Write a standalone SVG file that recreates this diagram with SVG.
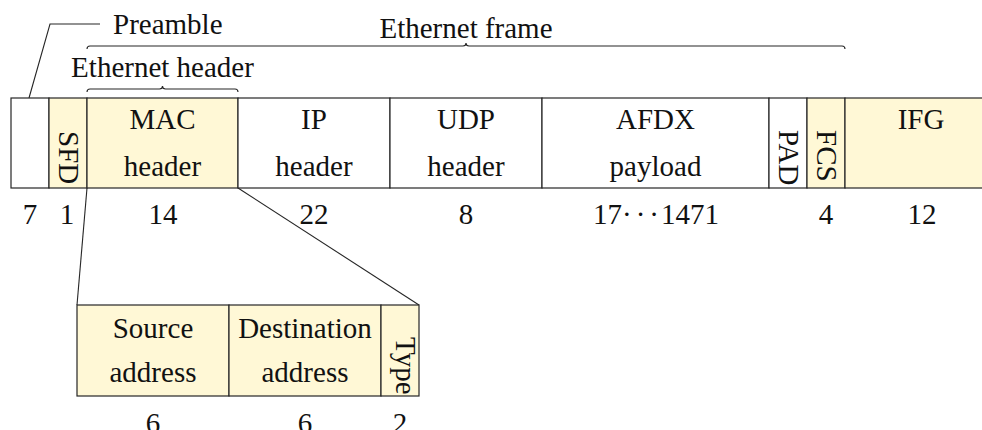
<svg xmlns="http://www.w3.org/2000/svg" width="982" height="430" viewBox="0 0 982 430" font-family="'Liberation Serif', 'Times New Roman', serif">
<style>
.c{stroke:#262626;stroke-width:1.2;fill:#ffffff}
.y{fill:#fff8d6}
.l{stroke:#262626;stroke-width:1.1;fill:none}
text{font-family:'Liberation Serif','Times New Roman',serif;font-size:29px;fill:#111}
.m{text-anchor:middle}
</style>
<rect width="982" height="430" fill="#ffffff"/>
<g id="connectors">
<polyline class="l" points="29,98 50,24 100,24"/>
<path class="l" d="M87,49 Q87,46 90,46 H463 Q466,46 466,43 Q466,46 469,46 H842 Q845,46 845,49"/>
<path class="l" d="M87,92 Q87,89 90,89 H159.5 Q162.5,89 162.5,86 Q162.5,89 165.5,89 H235 Q238,89 238,92"/>
<line class="l" x1="87" y1="188" x2="77" y2="305"/>
<line class="l" x1="238" y1="188" x2="419" y2="305"/>
</g>
<g id="preamble-label"><text x="113" y="34">Preamble</text></g>
<g id="frame-label"><text class="m" x="466" y="38">Ethernet frame</text></g>
<g id="header-label"><text class="m" x="162.5" y="77">Ethernet header</text></g>
<g id="preamble"><rect class="c" x="11" y="98" width="38" height="90"/><text class="m" x="30" y="224">7</text></g>
<g id="sfd"><rect class="c y" x="49" y="98" width="38" height="90"/><text transform="translate(58.5,131) rotate(90)">SFD</text><text class="m" x="67" y="224">1</text></g>
<g id="mac"><rect class="c y" x="87" y="98" width="151" height="90"/><text class="m" x="162.5" y="129">MAC</text><text class="m" x="162.5" y="176">header</text><text class="m" x="163" y="224">14</text></g>
<g id="ip"><rect class="c" x="238" y="98" width="152" height="90"/><text class="m" x="314" y="129">IP</text><text class="m" x="314" y="176">header</text><text class="m" x="314" y="224">22</text></g>
<g id="udp"><rect class="c" x="390" y="98" width="152" height="90"/><text class="m" x="466" y="129">UDP</text><text class="m" x="466" y="176">header</text><text class="m" x="466" y="224">8</text></g>
<g id="afdx"><rect class="c" x="542" y="98" width="227" height="90"/><text class="m" x="655.5" y="129">AFDX</text><text class="m" x="655.5" y="176">payload</text><text class="m" x="656" y="224">17·<tspan dx="4">·</tspan><tspan dx="4">·</tspan><tspan dx="2">1471</tspan></text></g>
<g id="pad"><rect class="c" x="769" y="98" width="38" height="90"/><text transform="translate(778.5,130) rotate(90)">PAD</text></g>
<g id="fcs"><rect class="c y" x="807" y="98" width="38" height="90"/><text transform="translate(816.5,130) rotate(90)">FCS</text><text class="m" x="826" y="224">4</text></g>
<g id="ifg"><rect class="c y" x="845" y="98" width="160" height="90"/><text class="m" x="921" y="129">IFG</text><text class="m" x="922" y="224">12</text></g>
<g id="source"><rect class="c y" x="77" y="305" width="152" height="91"/><text class="m" x="153" y="338">Source</text><text class="m" x="153" y="382">address</text><text class="m" x="153" y="433">6</text></g>
<g id="destination"><rect class="c y" x="229" y="305" width="152" height="91"/><text class="m" x="305" y="338">Destination</text><text class="m" x="305" y="382">address</text><text class="m" x="305" y="433">6</text></g>
<g id="type"><rect class="c y" x="381" y="305" width="38" height="91"/><text transform="translate(395.5,337) rotate(90)">Type</text><text class="m" x="400" y="433">2</text></g>
</svg>
